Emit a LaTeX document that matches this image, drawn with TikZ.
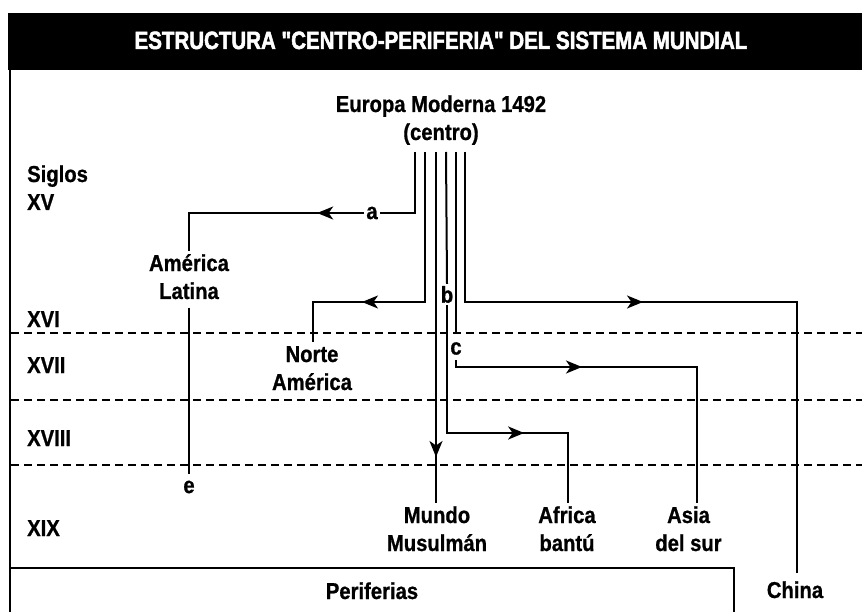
\documentclass[tikz,border=0pt]{standalone}
\usepackage{fontspec}
\newfontfamily\lab{Liberation Sans Bold}[FakeStretch=0.88, FakeBold=0.8]
\newfontfamily\ttl{Liberation Sans Bold}[FakeStretch=0.82, FakeBold=2]
\usetikzlibrary{arrows.meta,decorations.markings,calc}
\tikzset{
  lbl/.style={font=\lab\fontsize{23}{28}\selectfont, align=center, inner sep=0pt},
  letter/.style={font=\lab\fontsize{23}{28}\selectfont, inner sep=2pt},
  conn/.style={line width=2pt},
  arrowat/.style={postaction={decorate},decoration={markings,
     mark=at position #1 with {\arrow{Stealth[length=16pt,width=13pt,inset=4.5pt]}}}},
  sep/.style={line width=1.6pt, dash pattern=on 8pt off 5pt},
  frame/.style={line width=2pt},
}
\begin{document}
\begin{tikzpicture}[x=1pt,y=-1pt]
\useasboundingbox (0,0) rectangle (862,612);
\fill[white] (0,0) rectangle (862,612);
% title band
\fill[black] (8,13) rectangle (862,70);
\node[anchor=base, text=white, inner sep=0pt, font=\ttl\fontsize{25}{30}\selectfont] (title) at (441,49) {ESTRUCTURA "CENTRO-PERIFERIA" DEL SISTEMA MUNDIAL};
% frame
\draw[frame] (10,70) -- (10,612);
\draw[frame] (10,568) -- (734,568) -- (734,612);
% period separators
\draw[sep] (11,333) -- (862,333);
\draw[sep] (11,400) -- (862,400);
\draw[sep] (11,465) -- (862,465);
% century labels
\node[lbl, align=left, anchor=west] (sxv) at (27,190.4) {\strut Siglos\\\strut XV};
\node[lbl, anchor=base west] (sxvi) at (27,327) {XVI};
\node[lbl, anchor=base west] (sxvii) at (27,373) {XVII};
\node[lbl, anchor=base west] (sxviii) at (27,446) {XVIII};
\node[lbl, anchor=base west] (sxix) at (27,536) {XIX};
% places
\node[lbl] (eu) at (441,120.4) {\strut Europa Moderna 1492\\\strut (centro)};
\node[lbl] (amlat) at (189,279.4) {\strut Am\'erica\\\strut Latina};
\node[lbl] (nortam) at (312,370.4) {\strut Norte\\\strut Am\'erica};
\node[lbl] (mundo) at (437,531.4) {\strut Mundo\\\strut Musulm\'an};
\node[lbl] (africa) at (567,531.4) {\strut Africa\\\strut bant\'u};
\node[lbl] (asia) at (688.5,531.4) {\strut Asia\\\strut del sur};
\node[lbl, anchor=base] (china) at (795,598) {\strut China};
\node[lbl, anchor=base] (periferias) at (372,599) {Periferias};
% letters
\node[letter] (a) at (372,213) {a};
\node[letter] (b) at (447,294.5) {b};
\node[letter] (c) at (456,348.5) {c};
\node[letter] (e) at (189,487) {e};
% start points under the centre
\coordinate (s1) at (415,152);
\coordinate (s2) at (425,152);
\coordinate (s3) at (436,152);
\coordinate (s4) at (446,152);
\coordinate (s5) at (456,152);
\coordinate (s6) at (465,152);
\coordinate (k2) at (313,302);
\coordinate (k4) at (568,433);
\coordinate (k5) at (697,367);
\coordinate (k6) at (797,302);
% a : America Latina
\draw[conn] (s1) |- (a.east);
\draw[conn, arrowat=47pt] (a.west) -| (amlat.north);
\draw[conn] (amlat.south) -- ([yshift=5pt]e.north);
% Norte America
\draw[conn, arrowat=213pt] (s2) |- (k2) -- (nortam.north -| k2);
% Mundo Musulman
\draw[conn, arrowat=305pt] (s3) -- (s3 |- mundo.north);
% b : Africa bantu
\draw[conn] (s4) -- (b.north);
\draw[conn, arrowat=205pt] (b.south) |- (k4) -- (k4 |- africa.north);
% c : Asia del sur
\draw[conn] (s5) -- ([yshift=6pt]c.north);
\draw[conn, arrowat=133pt] ([yshift=-3pt]c.south) |- (k5) -- (k5 |- asia.north);
% China
\draw[conn, arrowat=328pt] (s6) |- (k6) -- ([yshift=5pt]china.north -| k6);
\end{tikzpicture}
\end{document}
